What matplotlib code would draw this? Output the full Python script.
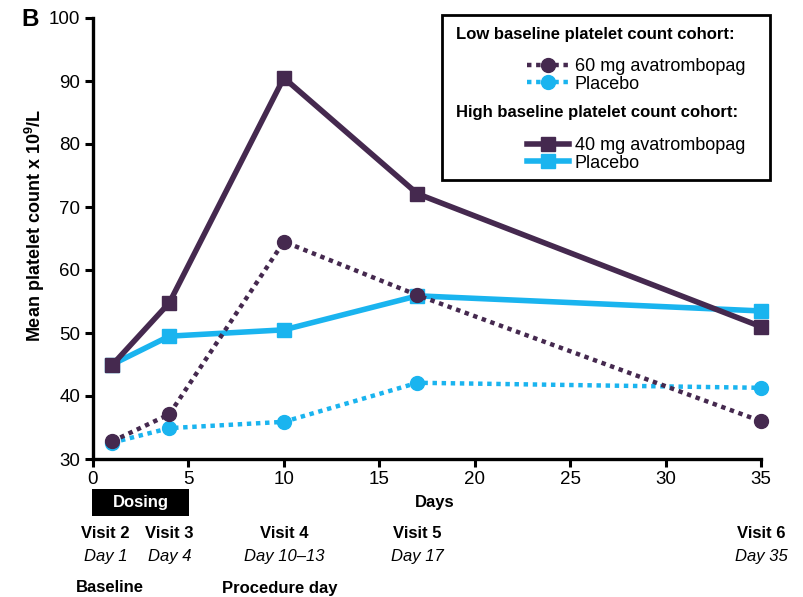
import matplotlib
matplotlib.use("Agg")
import matplotlib.pyplot as plt
from matplotlib.lines import Line2D
from matplotlib.patches import Rectangle
import matplotlib.transforms as mtransforms

plt.rcParams['font.family'] = ['Liberation Sans', 'DejaVu Sans']

# Study days at each visit
days = [1, 4, 10, 17, 35]

# Low baseline platelet count cohort
low_avatrombopag_60mg = [32.8, 37.1, 64.5, 56.0, 36.0]
low_placebo = [32.6, 34.9, 35.9, 42.1, 41.3]

# High baseline platelet count cohort
high_avatrombopag_40mg = [44.9, 54.8, 90.5, 72.1, 51.0]
high_placebo = [45.0, 49.5, 50.5, 55.9, 53.5]

y_ticks = [30, 40, 50, 60, 70, 80, 90, 100]
x_ticks = [0, 5, 10, 15, 20, 25, 30, 35]

visit_labels = ["Visit 2", "Visit 3", "Visit 4", "Visit 5", "Visit 6"]
visit_days = ["Day 1", "Day 4", "Day 10\u201313", "Day 17", "Day 35"]

PURPLE = "#45294f"
CYAN = "#1ab4ef"

SOLID_LW = 4.0
DOT_LW = 3.2
DOT = (0, (1.0, 1.05))
SQ_MS = 10.5
CIRC_MS = 10.0

fig = plt.figure(figsize=(8.04, 5.97), dpi=100)
ax = fig.add_axes([93 / 804, 1 - 459 / 597, (761 - 93) / 804, (459 - 18) / 597])

ax.plot(days, high_avatrombopag_40mg, color=PURPLE, lw=SOLID_LW, marker="s", ms=SQ_MS,
        zorder=4, clip_on=False)
ax.plot(days, high_placebo, color=CYAN, lw=SOLID_LW, marker="s", ms=SQ_MS,
        zorder=3, clip_on=False)
ax.plot(days, low_placebo, color=CYAN, lw=DOT_LW, ls=DOT, marker="o", ms=CIRC_MS,
        zorder=5, clip_on=False)
ax.plot(days, low_avatrombopag_60mg, color=PURPLE, lw=DOT_LW, ls=DOT, marker="o", ms=CIRC_MS,
        zorder=6, clip_on=False)

ax.set_xlim(0, 35)
ax.set_ylim(30, 100)
ax.set_xticks(x_ticks)
ax.set_yticks(y_ticks)
ax.tick_params(axis="both", direction="out", length=6, width=2.2, labelsize=13.5,
               pad=3, color="black")
for side in ("top", "right"):
    ax.spines[side].set_visible(False)
for side in ("left", "bottom"):
    ax.spines[side].set_linewidth(2.4)

ax.set_ylabel("Mean platelet count x 10$^{\\mathregular{9}}$/L", fontsize=13,
              fontweight="bold")
ax.yaxis.set_label_coords(-0.069, 0.53)

# Panel letter
fig.text(21 / 804, 1 - 19 / 597, "B", fontsize=17.5, fontweight="bold",
         ha="left", va="center")

# Annotations below the x axis
trans = mtransforms.blended_transform_factory(ax.transData, fig.transFigure)
fig.text(435 / 804, 1 - 502 / 597, "Days", fontsize=12, fontweight="bold",
         ha="center", va="center")
fig.patches.append(Rectangle((92 / 804, 1 - 516 / 597), 97 / 804, 27 / 597,
                             transform=fig.transFigure, fc="black", ec="none", zorder=0))
fig.text(141 / 804, 1 - 502 / 597, "Dosing", fontsize=12, fontweight="bold",
         color="white", ha="center", va="center")
label_x = [0.65, 4.0, 10.0, 17.0, 35.0]
for x, v, d in zip(label_x, visit_labels, visit_days):
    ax.text(x, 1 - 533 / 597, v, transform=trans, fontsize=12, fontweight="bold",
            ha="center", va="center")
    ax.text(x, 1 - 557 / 597, d, transform=trans, fontsize=12, style="italic",
            ha="center", va="center")
ax.text(0.9, 1 - 588 / 597, "Baseline", transform=trans, fontsize=12,
        fontweight="bold", ha="center", va="center")
ax.text(9.8, 1 - 588 / 597, "Procedure day", transform=trans, fontsize=12,
        fontweight="bold", ha="center", va="center")

# Legend box with two cohort groups
fig.patches.append(Rectangle((442 / 804, 1 - 180 / 597), (770 - 442) / 804, (180 - 15) / 597,
                             transform=fig.transFigure, fc="white", ec="black",
                             lw=2.0, zorder=10))
fig.text(456 / 804, 1 - 35 / 597, "Low baseline platelet count cohort:", fontsize=12,
         fontweight="bold", ha="left", va="center", zorder=11)
fig.text(456 / 804, 1 - 112 / 597, "High baseline platelet count cohort:", fontsize=12,
         fontweight="bold", ha="left", va="center", zorder=11)

low_handles = [
    Line2D([], [], color=PURPLE, lw=DOT_LW, ls=DOT, marker="o", ms=CIRC_MS),
    Line2D([], [], color=CYAN, lw=DOT_LW, ls=DOT, marker="o", ms=CIRC_MS),
]
high_handles = [
    Line2D([], [], color=PURPLE, lw=SOLID_LW, marker="s", ms=SQ_MS),
    Line2D([], [], color=CYAN, lw=SOLID_LW, marker="s", ms=SQ_MS),
]
leg_kw = dict(loc="upper left", frameon=False, fontsize=13, handlelength=2.3,
              handletextpad=0.35, labelspacing=0.04, borderpad=0, borderaxespad=0)
leg1 = fig.legend(low_handles, ["60 mg avatrombopag", "Placebo"],
                  bbox_to_anchor=(527 / 804, 1 - 58 / 597), **leg_kw)
leg2 = fig.legend(high_handles, ["40 mg avatrombopag", "Placebo"],
                  bbox_to_anchor=(527 / 804, 1 - 137 / 597), **leg_kw)
leg1.set_zorder(12)
leg2.set_zorder(12)

fig.savefig("out.png", dpi=100)
